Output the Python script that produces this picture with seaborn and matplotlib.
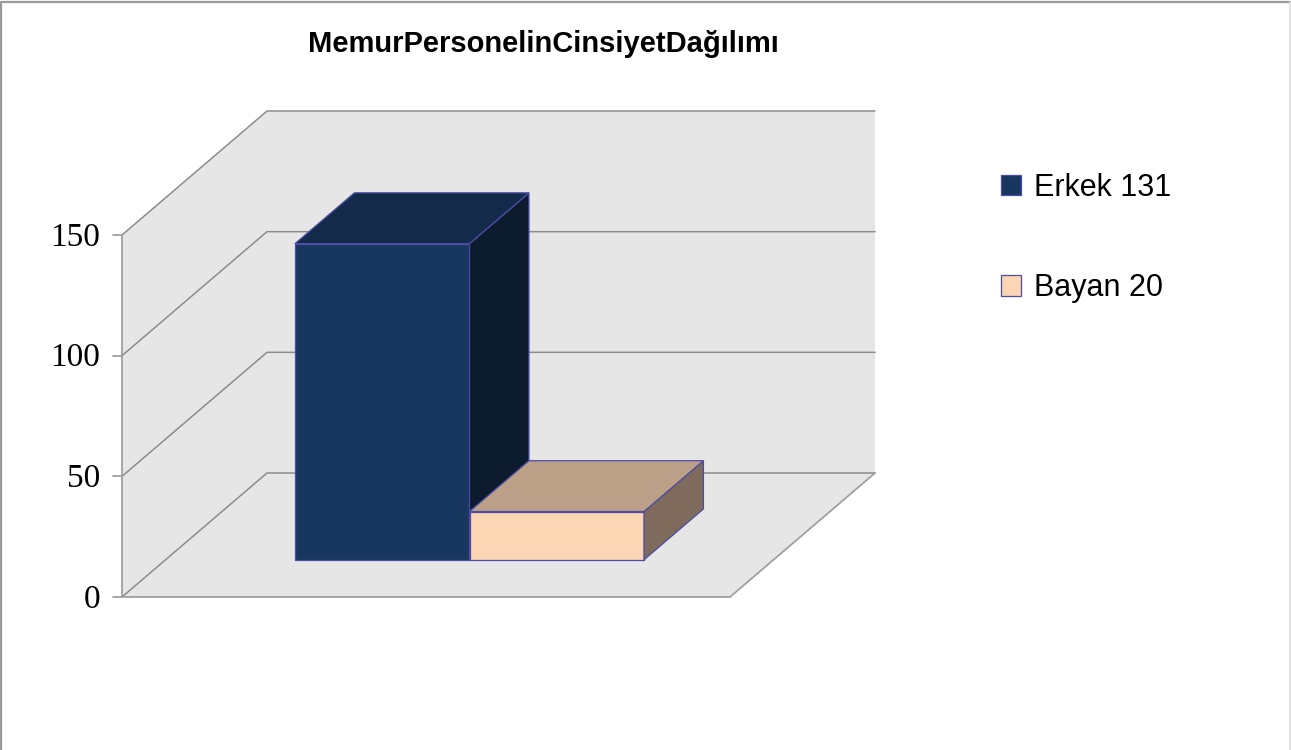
import matplotlib

matplotlib.use("Agg")
import matplotlib.pyplot as plt
import matplotlib.transforms as mtransforms
import pandas as pd
import seaborn as sns
from matplotlib.lines import Line2D
from matplotlib.patches import Polygon, Rectangle

# data
title = "MemurPersonelinCinsiyetDağılımı"
series = ["Erkek", "Bayan"]
values = [131, 20]
y_ticks = [0, 50, 100, 150]

# styles
front_colors = ["#17375e", "#fcd5b5"]
top_colors = ["#132a4a", "#bc9f87"]
side_colors = ["#0c1c2e", "#7e6b5b"]
edge_color = "#4c4ca6"
wall_color = "#e6e6e6"
grid_color = "#8c8c8c"

sns.set_style("white")
plt.rcParams["font.family"] = ["Liberation Sans", "DejaVu Sans"]

W, H = 1291, 750
fig = plt.figure(figsize=(W / 100, H / 100), dpi=100)
ax = fig.add_axes([0, 0, 1, 1])

# oblique projection: front plane x in [-0.5, 0.5], y in value units
px_x = 608.0          # pixels per x unit
px_y = 362.0 / 150.0  # pixels per value unit
DX, DY = 145.0 / px_x, 124.0 / px_y   # full depth vector in data units
D0, D1 = 0.30, 0.71                   # depth range occupied by the bars
x_center_px, y_zero_px = 426.0, 597.0

df = pd.DataFrame({
    "group": [""] * len(series),
    "label": [f"{s} {v}" for s, v in zip(series, values)],
    "value": values,
})

# walls and floor
xl, xr = -0.5, 0.5
ymax = max(y_ticks)
left_wall = [(xl, 0), (xl + DX, DY), (xl + DX, ymax + DY), (xl, ymax)]
back_wall = [(xl + DX, DY), (xr + DX, DY), (xr + DX, ymax + DY), (xl + DX, ymax + DY)]
floor = [(xl, 0), (xr, 0), (xr + DX, DY), (xl + DX, DY)]
for poly in (left_wall, back_wall, floor):
    ax.add_patch(Polygon(poly, closed=True, facecolor=wall_color, edgecolor="none", zorder=0))

for v in y_ticks:
    ax.plot([xl, xl + DX, xr + DX], [v, v + DY, v + DY], color=grid_color, lw=1.1, zorder=1)
    ax.plot([xl - 9 / px_x, xl], [v, v], color="#a0a0a0", lw=1.3, zorder=1)
    ax.text(xl - 22 / px_x, v - 1, str(v), ha="right", va="center",
            family=["Liberation Serif", "DejaVu Serif"], fontsize=24, color="black")
ax.plot([xl, xr, xr + DX], [0, 0, DY], color="#a0a0a0", lw=1.3, zorder=1)
ax.plot([xl, xl], [0, ymax], color="#a0a0a0", lw=1.3, zorder=1)

# front faces of the bars
sns.barplot(data=df, x="group", y="value", hue="label", hue_order=list(df["label"]),
            palette=front_colors, saturation=1, width=0.574, edgecolor=edge_color,
            linewidth=0.9, legend=False, ax=ax)
bars = [p for p in ax.patches if isinstance(p, Rectangle)]

shift = mtransforms.Affine2D().translate(D0 * DX, D0 * DY)
for i, (bar, tc, sc) in enumerate(zip(bars, top_colors, side_colors)):
    z = 3 + i
    x0, w, h = bar.get_x(), bar.get_width(), bar.get_height()
    bar.set_transform(shift + ax.transData)
    bar.set_zorder(z)
    a, b = D0, D1
    side = [(x0 + w + a * DX, a * DY), (x0 + w + b * DX, b * DY),
            (x0 + w + b * DX, h + b * DY), (x0 + w + a * DX, h + a * DY)]
    top = [(x0 + a * DX, h + a * DY), (x0 + w + a * DX, h + a * DY),
           (x0 + w + b * DX, h + b * DY), (x0 + b * DX, h + b * DY)]
    ax.add_patch(Polygon(side, closed=True, facecolor=sc, edgecolor=edge_color, lw=0.9, zorder=z))
    ax.add_patch(Polygon(top, closed=True, facecolor=tc, edgecolor=edge_color, lw=0.9, zorder=z))

ax.set_xlim(-x_center_px / px_x, (W - x_center_px) / px_x)
ax.set_ylim(-(H - y_zero_px) / px_y, y_zero_px / px_y)
ax.set_axis_off()

leg = ax.legend(bars, list(df["label"]), loc="upper left",
                bbox_to_anchor=(1001 / W, 1 - 173 / H), bbox_transform=fig.transFigure,
                frameon=False, fontsize=22, handlelength=0.65, handleheight=0.65,
                handletextpad=0.42, labelspacing=2.3, borderpad=0, borderaxespad=0)
for t in leg.get_texts():
    t.set_color("black")

fig.text(543 / W, 1 - 52 / H, title, ha="center", va="baseline",
         fontsize=21, fontweight="bold", color="black")

# outer chart border (top, left dark; right light)
fig.add_artist(Line2D([1.5 / W, 1.5 / W], [0, 1 - 1.5 / H], transform=fig.transFigure,
                      color="#9a9a9a", lw=1.6))
fig.add_artist(Line2D([1.5 / W, 1], [1 - 1.5 / H, 1 - 1.5 / H], transform=fig.transFigure,
                      color="#9a9a9a", lw=1.6))
fig.add_artist(Line2D([1 - 1.5 / W, 1 - 1.5 / W], [0, 1 - 1.5 / H], transform=fig.transFigure,
                      color="#dddddd", lw=1.2))

fig.savefig("out.png", dpi=100)
plt.close(fig)
